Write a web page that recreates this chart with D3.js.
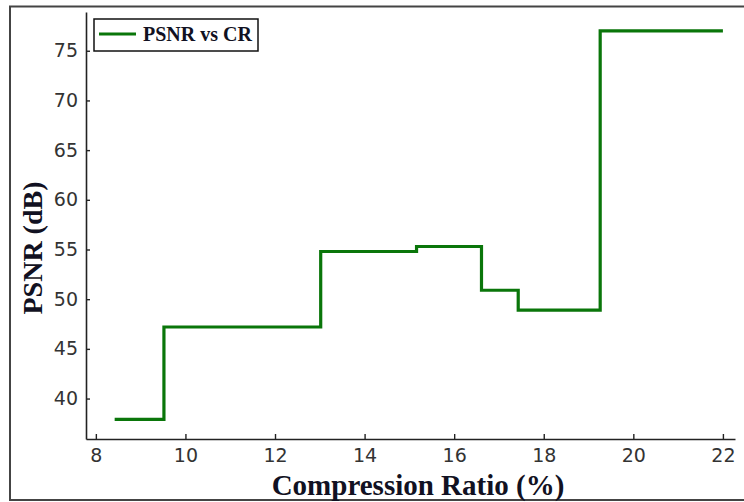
<!DOCTYPE html>
<html>
<head>
<meta charset="utf-8">
<script src="https://cdn.jsdelivr.net/npm/d3@7"></script>
<style>
  html, body { margin: 0; padding: 0; background: #fff; }
  svg { display: block; }
</style>
</head>
<body>
<svg id="chart" width="744" height="502"></svg>
<script>
// Compression ratio (%) at each step edge and the PSNR (dB) held from that point on
const compressionRatio = [8.42, 9.52, 13.02, 15.16, 16.61, 17.43, 19.26, 22.0];
const psnr = [37.9, 47.2, 54.8, 55.3, 50.9, 48.9, 77.0, 77.0];
const xTicks = [8, 10, 12, 14, 16, 18, 20, 22];
const yTicks = [40, 45, 50, 55, 60, 65, 70, 75];
const seriesName = "PSNR vs CR";

const svg = d3.select("#chart");

// outer frame
svg.append("path")
  .attr("d", "M744,6.5 H10 V500 H744")
  .attr("fill", "none")
  .attr("stroke", "#444")
  .attr("stroke-width", 2);

const x = d3.scaleLinear().domain([7.78, 22.27]).range([86, 735]);
const y = d3.scaleLinear().domain([35.93, 78.9]).range([439, 12]);

const tickFont = "'DejaVu Sans', sans-serif";

const gx = svg.append("g")
  .attr("transform", "translate(0,439)")
  .call(d3.axisBottom(x).tickValues(xTicks).tickFormat(d3.format("d"))
    .tickSizeInner(-5).tickSizeOuter(0).tickPadding(10));
const gy = svg.append("g")
  .attr("transform", "translate(86,0)")
  .call(d3.axisLeft(y).tickValues(yTicks).tickFormat(d3.format("d"))
    .tickSizeInner(-4).tickSizeOuter(0).tickPadding(8));

[gx, gy].forEach(g => {
  g.select(".domain").attr("stroke", "#222").attr("stroke-width", 1.6);
  g.selectAll(".tick line").attr("stroke", "#222").attr("stroke-width", 1.4);
  g.selectAll(".tick text")
    .attr("fill", "#333")
    .style("font-family", tickFont)
    .style("font-size", "19px");
});

// step line
const line = d3.line()
  .x((d, i) => x(compressionRatio[i]))
  .y(d => y(d))
  .curve(d3.curveStepAfter);

svg.append("path")
  .datum(psnr)
  .attr("d", line)
  .attr("fill", "none")
  .attr("stroke", "#0a760a")
  .attr("stroke-width", 3.2)
  .attr("stroke-linejoin", "miter");

// axis titles
const titleFont = "'Liberation Serif', 'Times New Roman', serif";
svg.append("text")
  .attr("x", 418)
  .attr("y", 495)
  .attr("text-anchor", "middle")
  .attr("fill", "#111122")
  .style("font-family", titleFont)
  .style("font-weight", "bold")
  .style("font-size", "29px")
  .text("Compression Ratio (%)");

svg.append("text")
  .attr("transform", "translate(42,248) rotate(-90)")
  .attr("text-anchor", "middle")
  .attr("fill", "#111122")
  .style("font-family", titleFont)
  .style("font-weight", "bold")
  .style("font-size", "28px")
  .text("PSNR (dB)");

// legend
const legend = svg.append("g");
legend.append("rect")
  .attr("x", 94).attr("y", 19)
  .attr("width", 164).attr("height", 32)
  .attr("fill", "#fff")
  .attr("stroke", "#111")
  .attr("stroke-width", 1.5);
legend.append("line")
  .attr("x1", 99).attr("x2", 136)
  .attr("y1", 34).attr("y2", 34)
  .attr("stroke", "#0a760a")
  .attr("stroke-width", 3.2);
legend.append("text")
  .attr("x", 143).attr("y", 41)
  .attr("fill", "#111122")
  .style("font-family", titleFont)
  .style("font-weight", "bold")
  .style("font-size", "20px")
  .text(seriesName);
</script>
</body>
</html>
